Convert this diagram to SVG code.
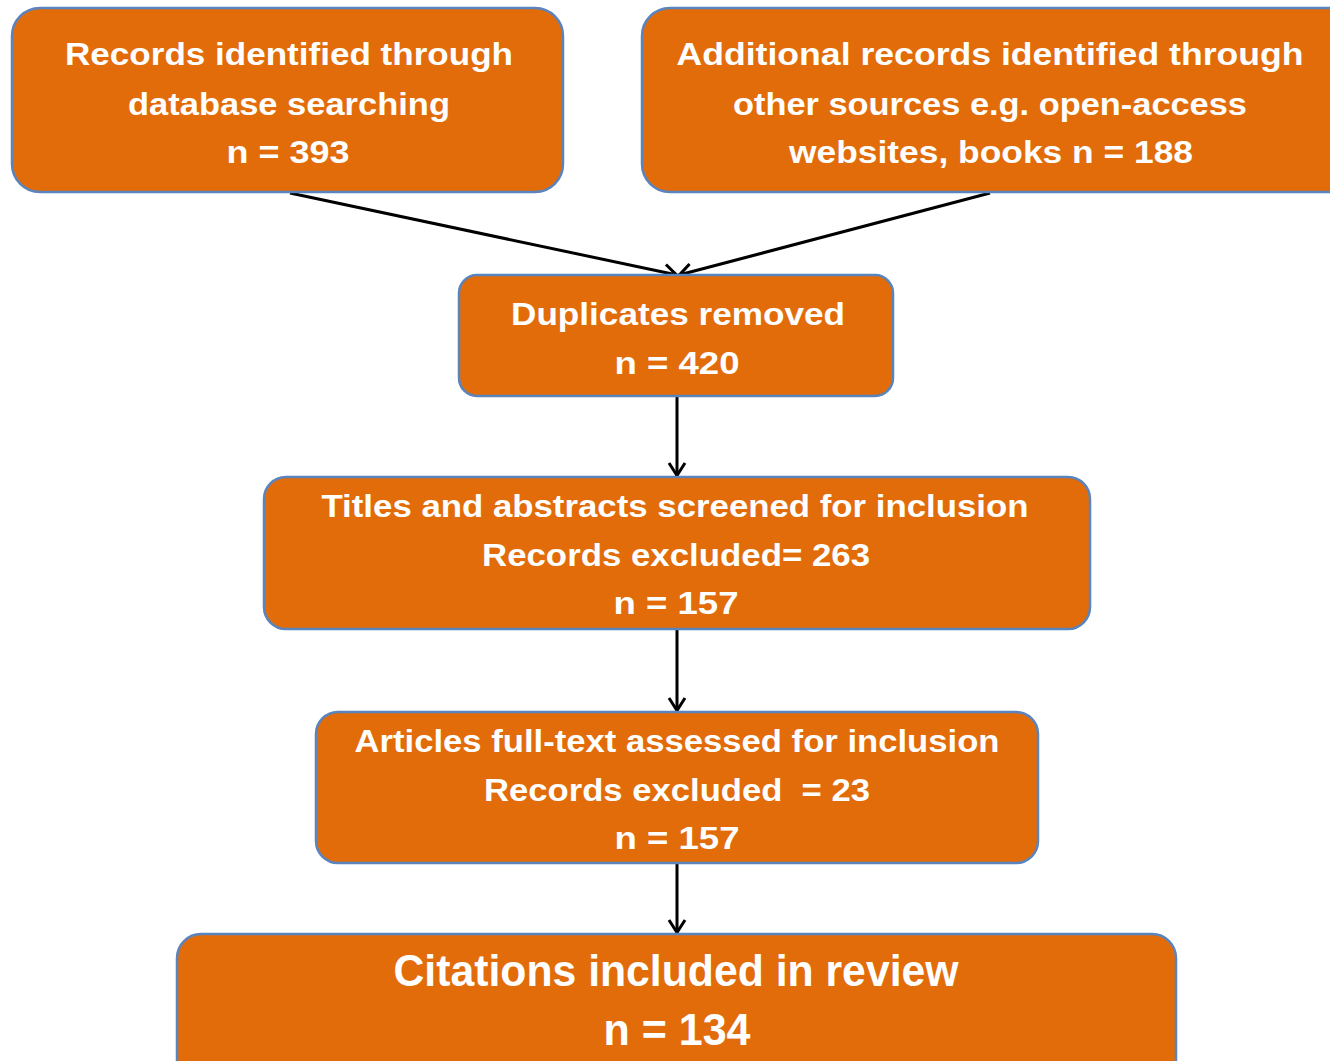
<svg xmlns="http://www.w3.org/2000/svg" width="1330" height="1061" viewBox="0 0 1330 1061">
<style>
.box{fill:#E36C0A;stroke:#5A84BD;stroke-width:2.5}
.t{font-family:"Liberation Sans",Arial,sans-serif;font-weight:bold;font-size:31px;fill:#FFFFFF;text-anchor:middle}
.big{font-size:45px}
.c{fill:none;stroke:#000;stroke-width:3}
</style>
<defs>
<marker id="ah" viewBox="0 0 16 20" refX="15" refY="10" markerWidth="16" markerHeight="20" markerUnits="userSpaceOnUse" orient="auto">
<path d="M2,2 L14.5,10 L2,18" fill="none" stroke="#000" stroke-width="3"/>
</marker>
</defs>
<rect width="1330" height="1061" fill="#FFFFFF"/>
<g id="connectors">
<line class="c" x1="290" y1="193" x2="677" y2="275" marker-end="url(#ah)"/>
<line class="c" x1="990" y1="193" x2="679" y2="275" marker-end="url(#ah)"/>
<line class="c" x1="677" y1="397" x2="677" y2="476" marker-end="url(#ah)"/>
<line class="c" x1="677" y1="630" x2="677" y2="711" marker-end="url(#ah)"/>
<line class="c" x1="677" y1="864" x2="677" y2="933" marker-end="url(#ah)"/>
</g>
<g id="n1">
<rect class="box" x="12" y="8" width="551" height="184" rx="28"/>
<text class="t" x="289" y="65" textLength="448" lengthAdjust="spacingAndGlyphs">Records identified through</text>
<text class="t" x="289" y="115" textLength="322" lengthAdjust="spacingAndGlyphs">database searching</text>
<text class="t" x="288" y="163" textLength="123" lengthAdjust="spacingAndGlyphs">n = 393</text>
</g>
<g id="n2">
<rect class="box" x="642" y="8" width="720" height="184" rx="28"/>
<text class="t" x="990" y="65" textLength="627" lengthAdjust="spacingAndGlyphs">Additional records identified through</text>
<text class="t" x="990" y="115" textLength="514" lengthAdjust="spacingAndGlyphs">other sources e.g. open-access</text>
<text class="t" x="991" y="163" textLength="404" lengthAdjust="spacingAndGlyphs">websites, books n = 188</text>
</g>
<g id="n3">
<rect class="box" x="459" y="275" width="434" height="121" rx="18"/>
<text class="t" x="678" y="325" textLength="334" lengthAdjust="spacingAndGlyphs">Duplicates removed</text>
<text class="t" x="677" y="374" textLength="125" lengthAdjust="spacingAndGlyphs">n = 420</text>
</g>
<g id="n4">
<rect class="box" x="264" y="477" width="826" height="152" rx="22"/>
<text class="t" x="675" y="517" textLength="707" lengthAdjust="spacingAndGlyphs">Titles and abstracts screened for inclusion</text>
<text class="t" x="676" y="566" textLength="388" lengthAdjust="spacingAndGlyphs">Records excluded= 263</text>
<text class="t" x="676" y="614" textLength="125" lengthAdjust="spacingAndGlyphs">n = 157</text>
</g>
<g id="n5">
<rect class="box" x="316" y="712" width="722" height="151" rx="22"/>
<text class="t" x="677" y="752" textLength="645" lengthAdjust="spacingAndGlyphs">Articles full-text assessed for inclusion</text>
<text class="t" x="677" y="801" textLength="386" lengthAdjust="spacingAndGlyphs" xml:space="preserve">Records excluded  = 23</text>
<text class="t" x="677" y="849" textLength="125" lengthAdjust="spacingAndGlyphs">n = 157</text>
</g>
<g id="n6">
<rect class="box" x="177" y="934" width="999" height="160" rx="24"/>
<text class="t big" x="676" y="986" textLength="565" lengthAdjust="spacingAndGlyphs">Citations included in review</text>
<text class="t big" x="677" y="1045" textLength="147" lengthAdjust="spacingAndGlyphs">n = 134</text>
</g>
</svg>
